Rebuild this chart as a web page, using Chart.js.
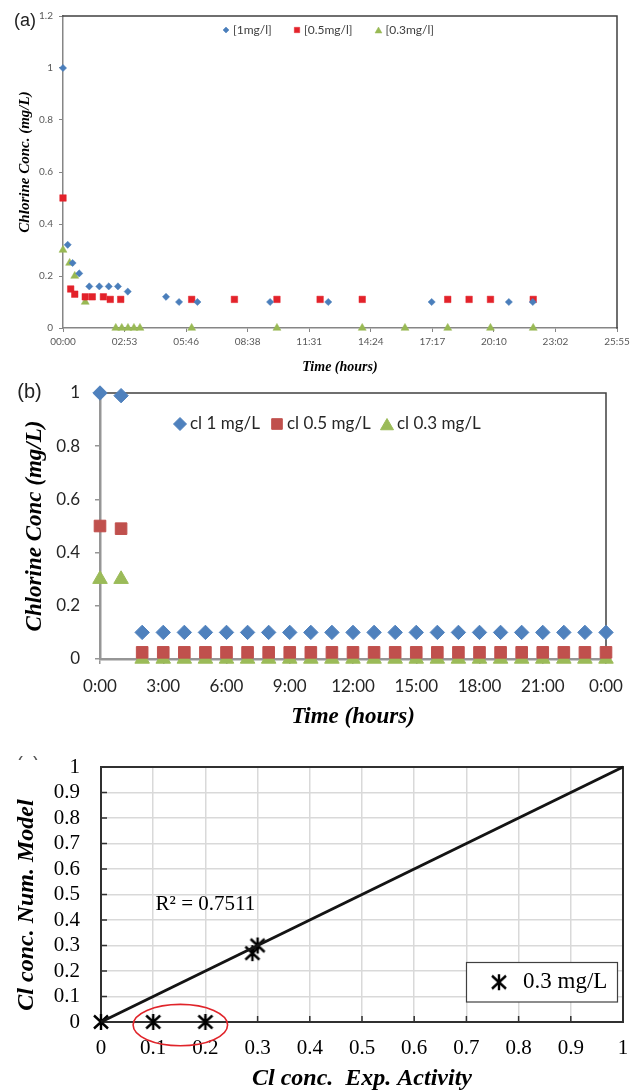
<!DOCTYPE html>
<html><head><meta charset="utf-8">
<script src="https://cdn.jsdelivr.net/npm/chart.js@4.4.1/dist/chart.umd.min.js"></script>
<style>
html,body{margin:0;padding:0;background:#fff;width:634px;height:1091px;overflow:hidden;position:relative}
canvas{position:absolute;left:0}
</style></head><body>
<canvas id="ca" width="634" height="380" style="top:0;width:634px;height:380px"></canvas>
<canvas id="cb" width="634" height="355" style="top:380px;width:634px;height:355px"></canvas>
<canvas id="cc" width="634" height="360" style="top:735px;width:634px;height:360px"></canvas>
<script>
// ================= DATA =================
// Panel (a): time in hours, chlorine concentration in mg/L
const timeA_1mg  = [0, 0.22, 0.45, 0.76, 1.23, 1.70, 2.14, 2.57, 3.03, 4.82, 5.43, 6.29, 9.69, 12.41, 17.25, 20.86, 21.98];
const concA_1mg  = [1.00, 0.32, 0.25, 0.21, 0.16, 0.16, 0.16, 0.16, 0.14, 0.12, 0.10, 0.10, 0.10, 0.10, 0.10, 0.10, 0.10];
const timeA_05mg = [0, 0.36, 0.55, 1.04, 1.37, 1.89, 2.21, 2.70, 6.02, 8.02, 10.01, 12.03, 14.00, 18.00, 19.00, 20.00, 22.00];
const concA_05mg = [0.50, 0.15, 0.13, 0.12, 0.12, 0.12, 0.11, 0.11, 0.11, 0.11, 0.11, 0.11, 0.11, 0.11, 0.11, 0.11, 0.11];
const timeA_03mg = [0, 0.31, 0.55, 1.04, 2.47, 2.75, 3.04, 3.32, 3.60, 6.02, 10.01, 14.00, 16.00, 18.00, 20.00, 22.00];
const concA_03mg = [0.30, 0.25, 0.20, 0.10, 0, 0, 0, 0, 0, 0, 0, 0, 0, 0, 0, 0];
const seriesNamesA = ['[1mg/l]', '[0.5mg/l]', '[0.3mg/l]'];
const xTickHoursA  = [0, 2.88, 5.76, 8.64, 11.52, 14.4, 17.28, 20.16, 23.04, 25.92];
const xTickLabelsA = ['00:00', '02:53', '05:46', '08:38', '11:31', '14:24', '17:17', '20:10', '23:02', '25:55'];
const yTicksA      = [0, 0.2, 0.4, 0.6, 0.8, 1, 1.2];
const yTickLabelsA = ['0', '0.2', '0.4', '0.6', '0.8', '1', '1.2'];

// Panel (b)
const timeB      = [0, 1, 2, 3, 4, 5, 6, 7, 8, 9, 10, 11, 12, 13, 14, 15, 16, 17, 18, 19, 20, 21, 22, 23, 24];
const concB_1mg  = [1.00, 0.99, 0.10, 0.10, 0.10, 0.10, 0.10, 0.10, 0.10, 0.10, 0.10, 0.10, 0.10, 0.10, 0.10, 0.10, 0.10, 0.10, 0.10, 0.10, 0.10, 0.10, 0.10, 0.10, 0.10];
const concB_05mg = [0.50, 0.49, 0.025, 0.025, 0.025, 0.025, 0.025, 0.025, 0.025, 0.025, 0.025, 0.025, 0.025, 0.025, 0.025, 0.025, 0.025, 0.025, 0.025, 0.025, 0.025, 0.025, 0.025, 0.025, 0.025];
const concB_03mg = [0.30, 0.30, 0, 0, 0, 0, 0, 0, 0, 0, 0, 0, 0, 0, 0, 0, 0, 0, 0, 0, 0, 0, 0, 0, 0];
const seriesNamesB = ['cl 1 mg/L', 'cl 0.5 mg/L', 'cl 0.3 mg/L'];
const xTickHoursB  = [0, 3, 6, 9, 12, 15, 18, 21, 24];
const xTickLabelsB = ['0:00', '3:00', '6:00', '9:00', '12:00', '15:00', '18:00', '21:00', '0:00'];
const yTicksB      = [0, 0.2, 0.4, 0.6, 0.8, 1];
const yTickLabelsB = ['0', '0.2', '0.4', '0.6', '0.8', '1'];

// Panel (c)
const expActivity = [0, 0.1, 0.2, 0.29, 0.3];
const numModel    = [0, 0, 0, 0.27, 0.3];
const fitLineX    = [0, 1];
const fitLineY    = [0, 1];
const seriesNameC = '0.3 mg/L';
const ticksC      = [0, 0.1, 0.2, 0.3, 0.4, 0.5, 0.6, 0.7, 0.8, 0.9, 1];
const tickLabelsC = ['0', '0.1', '0.2', '0.3', '0.4', '0.5', '0.6', '0.7', '0.8', '0.9', '1'];
const r2Text      = 'R² = 0.7511';

// ================= HELPERS / PLUGINS =================
const H = Chart.helpers;
function pts(xs, ys) { return xs.map((x, i) => ({ x: x, y: ys[i] })); }
function fixedTicks(values) { return s => { s.ticks = values.map(v => ({ value: v })); }; }
function fitSize(prop, size) {
  return s => { s[prop] = size; s.paddingLeft = 0; s.paddingRight = 0; s.paddingTop = 0; s.paddingBottom = 0; };
}

const framePlugin = {
  id: 'frame',
  beforeDatasetsDraw(chart, args, o) {
    if (!o || !o.sides) return;
    const ctx = chart.ctx, a = chart.chartArea;
    ctx.save();
    ctx.strokeStyle = o.color; ctx.lineWidth = o.width; ctx.lineCap = 'square';
    ctx.beginPath();
    if (o.sides.includes('top'))    { ctx.moveTo(a.left, a.top);     ctx.lineTo(a.right, a.top); }
    if (o.sides.includes('right'))  { ctx.moveTo(a.right, a.top);    ctx.lineTo(a.right, a.bottom); }
    if (o.sides.includes('bottom')) { ctx.moveTo(a.left, a.bottom);  ctx.lineTo(a.right, a.bottom); }
    if (o.sides.includes('left'))   { ctx.moveTo(a.left, a.top);     ctx.lineTo(a.left, a.bottom); }
    ctx.stroke();
    if (o.innerTicks) {
      const t = o.innerTicks, xs = chart.scales.x, ys = chart.scales.y;
      ctx.strokeStyle = t.color; ctx.lineWidth = t.width; ctx.lineCap = 'butt';
      ctx.beginPath();
      xs.ticks.forEach(tk => { const x = xs.getPixelForValue(tk.value); ctx.moveTo(x, a.bottom); ctx.lineTo(x, a.bottom - t.len); });
      ys.ticks.forEach(tk => { const y = ys.getPixelForValue(tk.value); ctx.moveTo(a.left, y); ctx.lineTo(a.left + t.len, y); });
      ctx.stroke();
    }
    ctx.restore();
  }
};

const textPlugin = {
  id: 'texts',
  afterDraw(chart, args, o) {
    if (!o || !o.items) return;
    const ctx = chart.ctx;
    o.items.forEach(it => {
      ctx.save();
      let x = it.x, y = it.y;
      if (it.data) { x = chart.scales.x.getPixelForValue(it.x); y = chart.scales.y.getPixelForValue(it.y); }
      if (it.clip) { ctx.beginPath(); ctx.rect(it.clip[0], it.clip[1], it.clip[2], it.clip[3]); ctx.clip(); }
      ctx.font = H.toFont(it.font).string;
      ctx.fillStyle = it.color || '#000';
      ctx.textAlign = it.align || 'center';
      ctx.textBaseline = 'middle';
      if (it.rotate) { ctx.translate(x, y); ctx.rotate(it.rotate); ctx.fillText(it.text, 0, 0); }
      else ctx.fillText(it.text, x, y);
      ctx.restore();
    });
  }
};

const legendPlugin = {
  id: 'rowLegend',
  afterDraw(chart, args, o) {
    if (!o || !o.items) return;
    const ctx = chart.ctx, a = chart.chartArea;
    ctx.save();
    let ox = 0, oy = o.y;
    if (o.box) {
      const b = o.box;
      const bx = a.right - b.right - b.w, by = a.bottom - b.bottom - b.h;
      ctx.fillStyle = '#fff'; ctx.fillRect(bx, by, b.w, b.h);
      ctx.strokeStyle = b.color; ctx.lineWidth = b.width; ctx.strokeRect(bx, by, b.w, b.h);
      ox = bx; oy = by + b.h / 2;
    }
    o.items.forEach(it => {
      const ds = chart.data.datasets[it.dataset];
      const mx = ox + it.x, my = oy + (it.dy || 0);
      ctx.fillStyle = ds.pointBackgroundColor; ctx.strokeStyle = ds.pointBorderColor; ctx.lineWidth = ds.pointBorderWidth;
      H.drawPoint(ctx, { pointStyle: ds.pointStyle, rotation: 0, radius: it.r, borderWidth: ds.pointBorderWidth }, mx, my);
      ctx.fillStyle = o.color;
      ctx.font = H.toFont(o.font).string;
      ctx.textAlign = 'left'; ctx.textBaseline = 'middle';
      ctx.fillText(ds.label, ox + it.x + o.textOffset, oy);
    });
    ctx.restore();
  }
};

const ellipsePlugin = {
  id: 'ellipseMark',
  afterDraw(chart, args, o) {
    if (!o || o.cx === undefined) return;
    const ctx = chart.ctx, xs = chart.scales.x, ys = chart.scales.y;
    const cx = xs.getPixelForValue(o.cx), cy = ys.getPixelForValue(o.cy);
    const rx = Math.abs(xs.getPixelForValue(o.cx + o.rx) - cx);
    const ry = Math.abs(ys.getPixelForValue(o.cy + o.ry) - cy);
    ctx.save();
    ctx.strokeStyle = o.color; ctx.lineWidth = o.width;
    ctx.beginPath(); ctx.ellipse(cx, cy, rx, ry, 0, 0, Math.PI * 2); ctx.stroke();
    ctx.restore();
  }
};

function makeAsterisk(size, lw) {
  const c = document.createElement('canvas');
  c.width = size; c.height = size;
  const g = c.getContext('2d');
  const m = size / 2;
  g.strokeStyle = '#000'; g.lineWidth = lw; g.lineCap = 'butt';
  g.beginPath();
  g.moveTo(m, 1); g.lineTo(m, size - 1);
  const dx = m - 2, dy = m - 2.5;
  g.moveTo(m - dx, m - dy); g.lineTo(m + dx, m + dy);
  g.moveTo(m + dx, m - dy); g.lineTo(m - dx, m + dy);
  g.stroke();
  return c;
}

const SANS = 'Lato';
const SERIF = 'Liberation Serif';
const titleFont = size => ({ family: SERIF, size: size, weight: 'bold', style: 'italic', lineHeight: 1.2 });

function build() {
  // ---------------- Panel (a) ----------------
  const colA = ['#4a7ebb', '#e3222a', '#98b954'];
  new Chart(document.getElementById('ca'), {
    type: 'scatter',
    data: { datasets: [
      { label: seriesNamesA[0], data: pts(timeA_1mg, concA_1mg), pointStyle: 'rectRot', pointRadius: 3.6,
        pointBackgroundColor: colA[0], pointBorderColor: colA[0], pointBorderWidth: 0.5, clip: false },
      { label: seriesNamesA[1], data: pts(timeA_05mg, concA_05mg), pointStyle: 'rect', pointRadius: 4.6,
        pointBackgroundColor: colA[1], pointBorderColor: colA[1], pointBorderWidth: 0.5, clip: false },
      { label: seriesNamesA[2], data: pts(timeA_03mg, concA_03mg), pointStyle: 'triangle', pointRadius: 4.6,
        pointBackgroundColor: colA[2], pointBorderColor: colA[2], pointBorderWidth: 0.5, clip: false }
    ] },
    options: {
      responsive: false, animation: false, events: [],
      layout: { padding: { left: 0, top: 16, right: 17, bottom: 0 } },
      scales: {
        x: { type: 'linear', min: 0, max: 25.92, afterBuildTicks: fixedTicks(xTickHoursA),
             afterFit: fitSize('height', 52),
             grid: { drawOnChartArea: false, color: '#868686', tickLength: 4, lineWidth: 1 },
             border: { color: '#868686', width: 1.5 },
             ticks: { font: { family: SANS, size: 10 }, color: '#595959', padding: 4, maxRotation: 0, autoSkip: false,
                      callback: (v, i) => xTickLabelsA[i] },
             title: { display: true, text: 'Time (hours)', font: titleFont(14), color: '#000', padding: { top: 0, bottom: 4.5 } } },
        y: { type: 'linear', min: 0, max: 1.2, afterBuildTicks: fixedTicks(yTicksA),
             afterFit: fitSize('width', 63),
             grid: { drawOnChartArea: false, color: '#868686', tickLength: 4, lineWidth: 1 },
             border: { color: '#868686', width: 1.5 },
             ticks: { font: { family: SANS, size: 10 }, color: '#595959', padding: 6, autoSkip: false,
                      callback: (v, i) => yTickLabelsA[i] },
             title: { display: false } }
      },
      plugins: {
        legend: { display: false }, tooltip: { enabled: false },
        frame: { sides: ['top', 'right'], color: '#404040', width: 1.5 },
        rowLegend: { y: 30, font: { family: SANS, size: 12 }, color: '#404040', textOffset: 7,
                     items: [ { dataset: 0, x: 226, r: 3 }, { dataset: 1, x: 297, r: 3.8 }, { dataset: 2, x: 378.5, r: 4, dy: 1 } ] },
        texts: { items: [
          { text: '(a)', x: 25, y: 21, font: { family: 'Liberation Sans', size: 18 }, color: '#222' },
          { text: 'Chlorine Conc. (mg/L)', x: 25, y: 162, rotate: -Math.PI / 2, font: titleFont(15), color: '#000' }
        ] }
      }
    },
    plugins: [framePlugin, legendPlugin, textPlugin]
  });

  // ---------------- Panel (b) ----------------
  const colB = ['#4f81bd', '#c0504d', '#9bbb59'];
  new Chart(document.getElementById('cb'), {
    type: 'scatter',
    data: { datasets: [
      { label: seriesNamesB[0], data: pts(timeB, concB_1mg), pointStyle: 'rectRot', pointRadius: 7.2,
        pointBackgroundColor: colB[0], pointBorderColor: colB[0], pointBorderWidth: 1, clip: false },
      { label: seriesNamesB[1], data: pts(timeB, concB_05mg), pointStyle: 'rect', pointRadius: 8.2,
        pointBackgroundColor: colB[1], pointBorderColor: colB[1], pointBorderWidth: 1, clip: false },
      { label: seriesNamesB[2], data: pts(timeB, concB_03mg), pointStyle: 'triangle', pointRadius: 8.4,
        pointBackgroundColor: colB[2], pointBorderColor: colB[2], pointBorderWidth: 1, clip: false }
    ] },
    options: {
      responsive: false, animation: false, events: [],
      layout: { padding: { left: 0, top: 13, right: 28, bottom: 0 } },
      scales: {
        x: { type: 'linear', min: 0, max: 24, afterBuildTicks: fixedTicks(xTickHoursB),
             afterFit: fitSize('height', 76),
             grid: { drawOnChartArea: false, color: '#969696', tickLength: 5, lineWidth: 1.5 },
             border: { color: '#969696', width: 2.5 },
             ticks: { font: { family: SANS, size: 17 }, color: '#262626', padding: 12, maxRotation: 0, autoSkip: false,
                      callback: (v, i) => xTickLabelsB[i] },
             title: { display: true, text: 'Time (hours)', font: titleFont(23), color: '#000', padding: { top: 0, bottom: 4.5 } } },
        y: { type: 'linear', min: 0, max: 1, afterBuildTicks: fixedTicks(yTicksB),
             afterFit: fitSize('width', 100),
             grid: { drawOnChartArea: false, color: '#969696', tickLength: 5, lineWidth: 1.5 },
             border: { color: '#969696', width: 2.5 },
             ticks: { font: { family: SANS, size: 17 }, color: '#262626', padding: 15, autoSkip: false,
                      callback: (v, i) => yTickLabelsB[i] },
             title: { display: true, text: 'Chlorine Conc (mg/L)', font: titleFont(23), color: '#000', padding: { top: 21, bottom: 0 } } }
      },
      plugins: {
        legend: { display: false }, tooltip: { enabled: false },
        frame: { sides: ['top', 'right'], color: '#404040', width: 1.5 },
        rowLegend: { y: 44, font: { family: SANS, size: 17 }, color: '#262626', textOffset: 10,
                     items: [ { dataset: 0, x: 180, r: 6.5 }, { dataset: 1, x: 277, r: 7.5 }, { dataset: 2, x: 387, r: 7.5, dy: 2 } ] },
        texts: { items: [ { text: '(b)', x: 29.5, y: 12, font: { family: 'Liberation Sans', size: 20 }, color: '#222' } ] }
      }
    },
    plugins: [framePlugin, legendPlugin, textPlugin]
  });

  // ---------------- Panel (c) ----------------
  const star = makeAsterisk(18, 2.4);
  new Chart(document.getElementById('cc'), {
    type: 'scatter',
    data: { datasets: [
      { label: 'fit', data: pts(fitLineX, fitLineY), showLine: true, borderColor: '#141414', borderWidth: 3,
        pointRadius: 0, clip: false },
      { label: seriesNameC, data: pts(expActivity, numModel), pointStyle: star, pointRadius: 8,
        pointBackgroundColor: '#000', pointBorderColor: '#000', pointBorderWidth: 1, clip: false }
    ] },
    options: {
      responsive: false, animation: false, events: [],
      layout: { padding: { left: 0, top: 32, right: 11, bottom: 0 } },
      scales: {
        x: { type: 'linear', min: 0, max: 1, afterBuildTicks: fixedTicks(ticksC),
             afterFit: fitSize('height', 73),
             grid: { drawTicks: false, color: '#d9d9d9', lineWidth: 1.5 },
             border: { display: false },
             ticks: { font: { family: SERIF, size: 21 }, color: '#000', padding: 13.4, maxRotation: 0, autoSkip: false,
                      callback: (v, i) => tickLabelsC[i] },
             title: { display: true, text: 'Cl conc.  Exp. Activity', font: titleFont(24), color: '#000', padding: { top: 0, bottom: 2 } } },
        y: { type: 'linear', min: 0, max: 1, afterBuildTicks: fixedTicks(ticksC),
             afterFit: fitSize('width', 101),
             grid: { drawTicks: false, color: '#d9d9d9', lineWidth: 1.5 },
             border: { display: false },
             ticks: { font: { family: SERIF, size: 21 }, color: '#000', padding: 21, autoSkip: false,
                      callback: (v, i) => tickLabelsC[i] },
             title: { display: false } }
      },
      plugins: {
        legend: { display: false }, tooltip: { enabled: false },
        frame: { sides: ['top', 'right', 'bottom', 'left'], color: '#303030', width: 2,
                 innerTicks: { len: 6, color: '#303030', width: 1.5 } },
        rowLegend: { font: { family: SERIF, size: 23 }, color: '#000', textOffset: 24,
                     box: { right: 5.5, bottom: 20, w: 151, h: 39.5, color: '#404040', width: 1.2 },
                     items: [ { dataset: 1, x: 32.5, r: 8 } ] },
        texts: { items: [
          { text: r2Text, data: true, x: 0.2, y: 0.46, font: { family: SERIF, size: 21 }, color: '#000' },
          { text: 'Cl conc. Num. Model', x: 27, y: 170, rotate: -Math.PI / 2, font: titleFont(24), color: '#000' },
          { text: '(c)', x: 28, y: 30, font: { family: 'Liberation Sans', size: 20 }, color: '#555', clip: [0, 0, 60, 25] }
        ] },
        ellipseMark: { cx: 0.152, cy: -0.012, rx: 0.0905, ry: 0.081, color: '#e0242a', width: 1.6 }
      }
    },
    plugins: [framePlugin, legendPlugin, textPlugin, ellipsePlugin]
  });
}

const fontsToLoad = ['10px Lato', '17px Lato', 'bold italic 14px "Liberation Serif"', '21px "Liberation Serif"', '18px "Liberation Sans"'];
Promise.all(fontsToLoad.map(f => document.fonts.load(f).catch(() => null))).then(build, build);
</script>
</body></html>
